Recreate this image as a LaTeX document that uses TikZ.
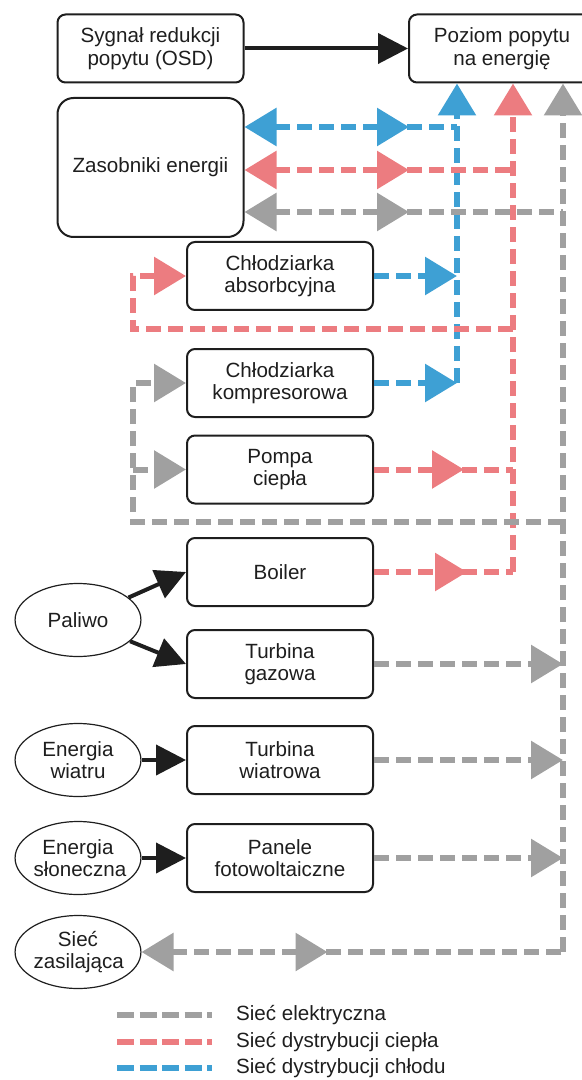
\documentclass[tikz,border=0pt]{standalone}
\usepackage{fontspec}
\setmainfont{Liberation Sans}
\usetikzlibrary{arrows.meta,shapes.geometric,decorations.markings}
\definecolor{elgray}{RGB}{160,160,160}
\definecolor{heatred}{RGB}{236,124,128}
\definecolor{coldblue}{RGB}{62,160,212}
\definecolor{ink}{RGB}{30,30,30}

\begin{document}
\begin{tikzpicture}[x=0.5pt,y=-0.5pt,
  font=\fontsize{10.3}{11.2}\selectfont,text=ink,
  box/.style={draw=ink,line width=1pt,rounded corners=4pt,minimum width=93pt,minimum height=34pt,inner sep=0pt,align=center},
  src/.style={draw=ink,line width=0.6pt,ellipse,text width=44.5pt,minimum height=36.5pt,inner sep=0pt,align=center},
  flowtip/.tip={Triangle[length=16pt,width=18.5pt]},
  inktip/.tip={Triangle[length=15pt,width=15pt]},
  net/.style={line width=3pt,dash pattern=on 7.5pt off 3.5pt},
  elline/.style={net,color=elgray},
  heatline/.style={net,color=heatred},
  coldline/.style={net,color=coldblue},
  fuel/.style={color=ink,line width=2pt,-inktip},
  tipat/.style={postaction={decorate,decoration={markings,mark=at position #1 with {\arrow{flowtip}}}}}
]
\clip (0,0) rectangle (582,1080);

\node[box] (osd) at (150.5,48.5) {Sygnał redukcji\\popytu (OSD)};
\node[box] (demand) at (502,48.5) {Poziom popytu\\na energię};
\node[box,minimum height=69.5pt,rounded corners=8pt] (store) at (150.5,167.5) {Zasobniki energii};
\node[box] (absorb) at (280,276) {Chłodziarka\\absorbcyjna};
\node[box] (compr) at (280,383) {Chłodziarka\\kompresorowa};
\node[box] (pump) at (280,469.5) {Pompa\\ciepła};
\node[box] (boiler) at (280,572) {Boiler};
\node[box] (gasturb) at (280,664) {Turbina\\gazowa};
\node[box] (windturb) at (280,760) {Turbina\\wiatrowa};
\node[box] (pv) at (280,858) {Panele\\fotowoltaiczne};

\node[src] (fuelsrc) at (78,620) {Paliwo};
\node[src] (wind) at (78,760) {Energia\\wiatru};
\node[src] (sun) at (78,858) {Energia\\słoneczna};
\node[src] (grid) at (78,952) {Sieć\\zasilająca};

\coordinate (bluebot) at (457,383);
\coordinate (bluerow) at (457,127);
\coordinate (redbot) at (513,572);
\coordinate (redrow) at (513,170);
\coordinate (redloop) at (513,329);
\coordinate (graybot) at (563,952);
\coordinate (grayrow) at (563,212);
\coordinate (grayloop) at (563,522);
\coordinate (loopx) at (133,0);

\draw[coldline,-flowtip] (bluebot) -- (demand.south -| bluebot);
\draw[coldline,-flowtip] (absorb) -- (absorb -| bluebot);
\draw[coldline,-flowtip] (compr) -- (bluebot);
\draw[coldline,flowtip-,tipat=-24pt] (store.east |- bluerow) -- (bluerow);

\draw[heatline,-flowtip] (redbot) -- (demand.south -| redbot);
\draw[heatline,tipat=46.5pt] (boiler) -- (redbot);
\draw[heatline,tipat=45pt] (pump) -- (pump -| redbot);
\draw[heatline,flowtip-,tipat=-52pt] (store.east |- redrow) -- (redrow);
\draw[heatline,-flowtip] (redloop) -- (redloop -| loopx) |- (absorb.west);

\draw[elline,-flowtip] (graybot) -- (demand.south -| graybot);
\draw[elline,flowtip-,tipat=-77pt] (store.east |- grayrow) -- (grayrow);
\draw[elline,-flowtip] (grayloop) -- (grayloop -| loopx) |- (compr.west);
\draw[elline,-flowtip] (loopx |- pump.west) -- (pump.west);
\draw[elline,-flowtip] (gasturb) -- (gasturb -| graybot);
\draw[elline,-flowtip] (windturb) -- (windturb -| graybot);
\draw[elline,-flowtip] (pv) -- (pv -| graybot);
\draw[elline,flowtip-,tipat=93pt] (grid) -- (grid -| graybot);

\draw[fuel] (osd) -- (demand);
\draw[fuel] (fuelsrc) -- (boiler.west);
\draw[fuel] (fuelsrc) -- (gasturb.west);
\draw[fuel] (wind) -- (windturb);
\draw[fuel] (sun) -- (pv);

\node[anchor=west] (legel) at (229,1015) {Sieć elektryczna};
\node[anchor=west] (legheat) at (229,1042) {Sieć dystrybucji ciepła};
\node[anchor=west] (legcold) at (229,1068) {Sieć dystrybucji chłodu};
\draw[elline,dash pattern=on 8.5pt off 2.75pt] (legel.west) ++(-112,0) -- ++(95,0);
\draw[heatline,dash pattern=on 8.5pt off 2.75pt] (legheat.west) ++(-112,0) -- ++(95,0);
\draw[coldline,dash pattern=on 8.5pt off 2.75pt] (legcold.west) ++(-112,0) -- ++(95,0);
\end{tikzpicture}
\end{document}
